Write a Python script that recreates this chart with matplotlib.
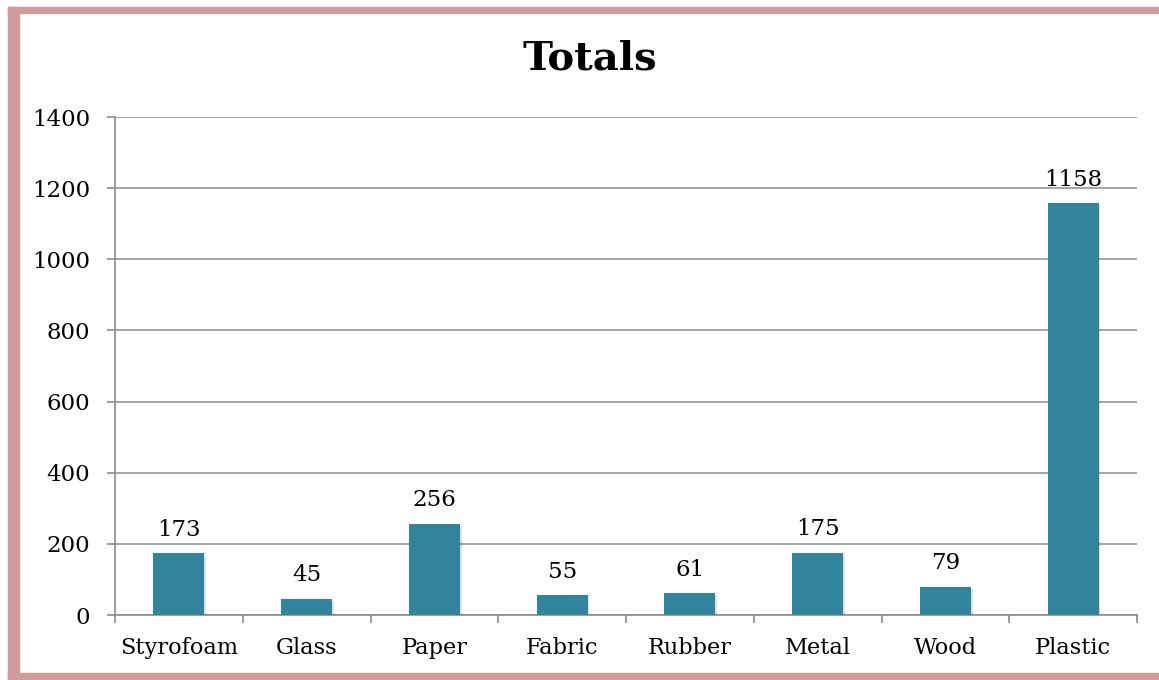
import matplotlib
matplotlib.use("Agg")
import matplotlib.pyplot as plt
import matplotlib.patheffects as pe
from matplotlib.patches import Rectangle
import numpy as np

categories = ["Styrofoam", "Glass", "Paper", "Fabric", "Rubber", "Metal", "Wood", "Plastic"]
values = [173, 45, 256, 55, 61, 175, 79, 1158]
yticks = [0, 200, 400, 600, 800, 1000, 1200, 1400]
title = "Totals"

W, H = 1159, 680
fig = plt.figure(figsize=(W / 100, H / 100), dpi=100)
font = "DejaVu Serif"

# border
bc = "#D09B9D"
fig.patches.append(Rectangle((8 / W, 0), 11 / W, 1 - 7 / H, transform=fig.transFigure, color=bc, zorder=0))
fig.patches.append(Rectangle((8 / W, 1 - 13 / H), 1 - 8 / W, 6 / H, transform=fig.transFigure, color=bc, zorder=0))
fig.patches.append(Rectangle((8 / W, 0), 1 - 8 / W, 7 / H, transform=fig.transFigure, color=bc, zorder=0))

ax = fig.add_axes([115 / W, 1 - 615 / H, (1137 - 115) / W, (615 - 117) / H])
x = np.arange(len(categories))
bars = ax.bar(x, values, width=0.4, color="#31849B", zorder=3)
for b in bars:
    b.set_path_effects([pe.SimplePatchShadow(offset=(1.2, -1.2), shadow_rgbFace="black", alpha=0.12), pe.Normal()])

for xi, v in zip(x, values):
    ax.annotate(str(v), (xi, v), xytext=(0, 9), textcoords="offset points",
                ha="center", va="bottom", fontsize=16.5, family=font, color="black")

ax.set_xlim(-0.5, len(categories) - 0.5)
ax.set_ylim(0, 1400)
ax.set_yticks(yticks)
ax.set_yticklabels([str(t) for t in yticks], fontsize=16.5, family=font)
ax.set_xticks(x)
ax.set_xticklabels(categories, fontsize=16.2, family=font)
ax.tick_params(axis="x", length=0, pad=16)
ax.set_xticks(np.arange(len(categories) + 1) - 0.5, minor=True)
ax.tick_params(axis="x", which="minor", length=6, width=1.2, color="#8c8c8c", direction="out")
ax.tick_params(axis="y", length=6, width=1.2, color="#8c8c8c", direction="out", pad=12)

ax.grid(axis="y", color="#8c8c8c", linewidth=1.1, zorder=0)
ax.set_axisbelow(True)
for s in ["top", "right"]:
    ax.spines[s].set_visible(False)
for s in ["left", "bottom"]:
    ax.spines[s].set_color("#8c8c8c")
    ax.spines[s].set_linewidth(1.2)

fig.text(590 / W, 1 - 59 / H, title, ha="center", va="center", fontsize=29, fontweight="bold", family=font)

fig.savefig("out.png", dpi=100)
